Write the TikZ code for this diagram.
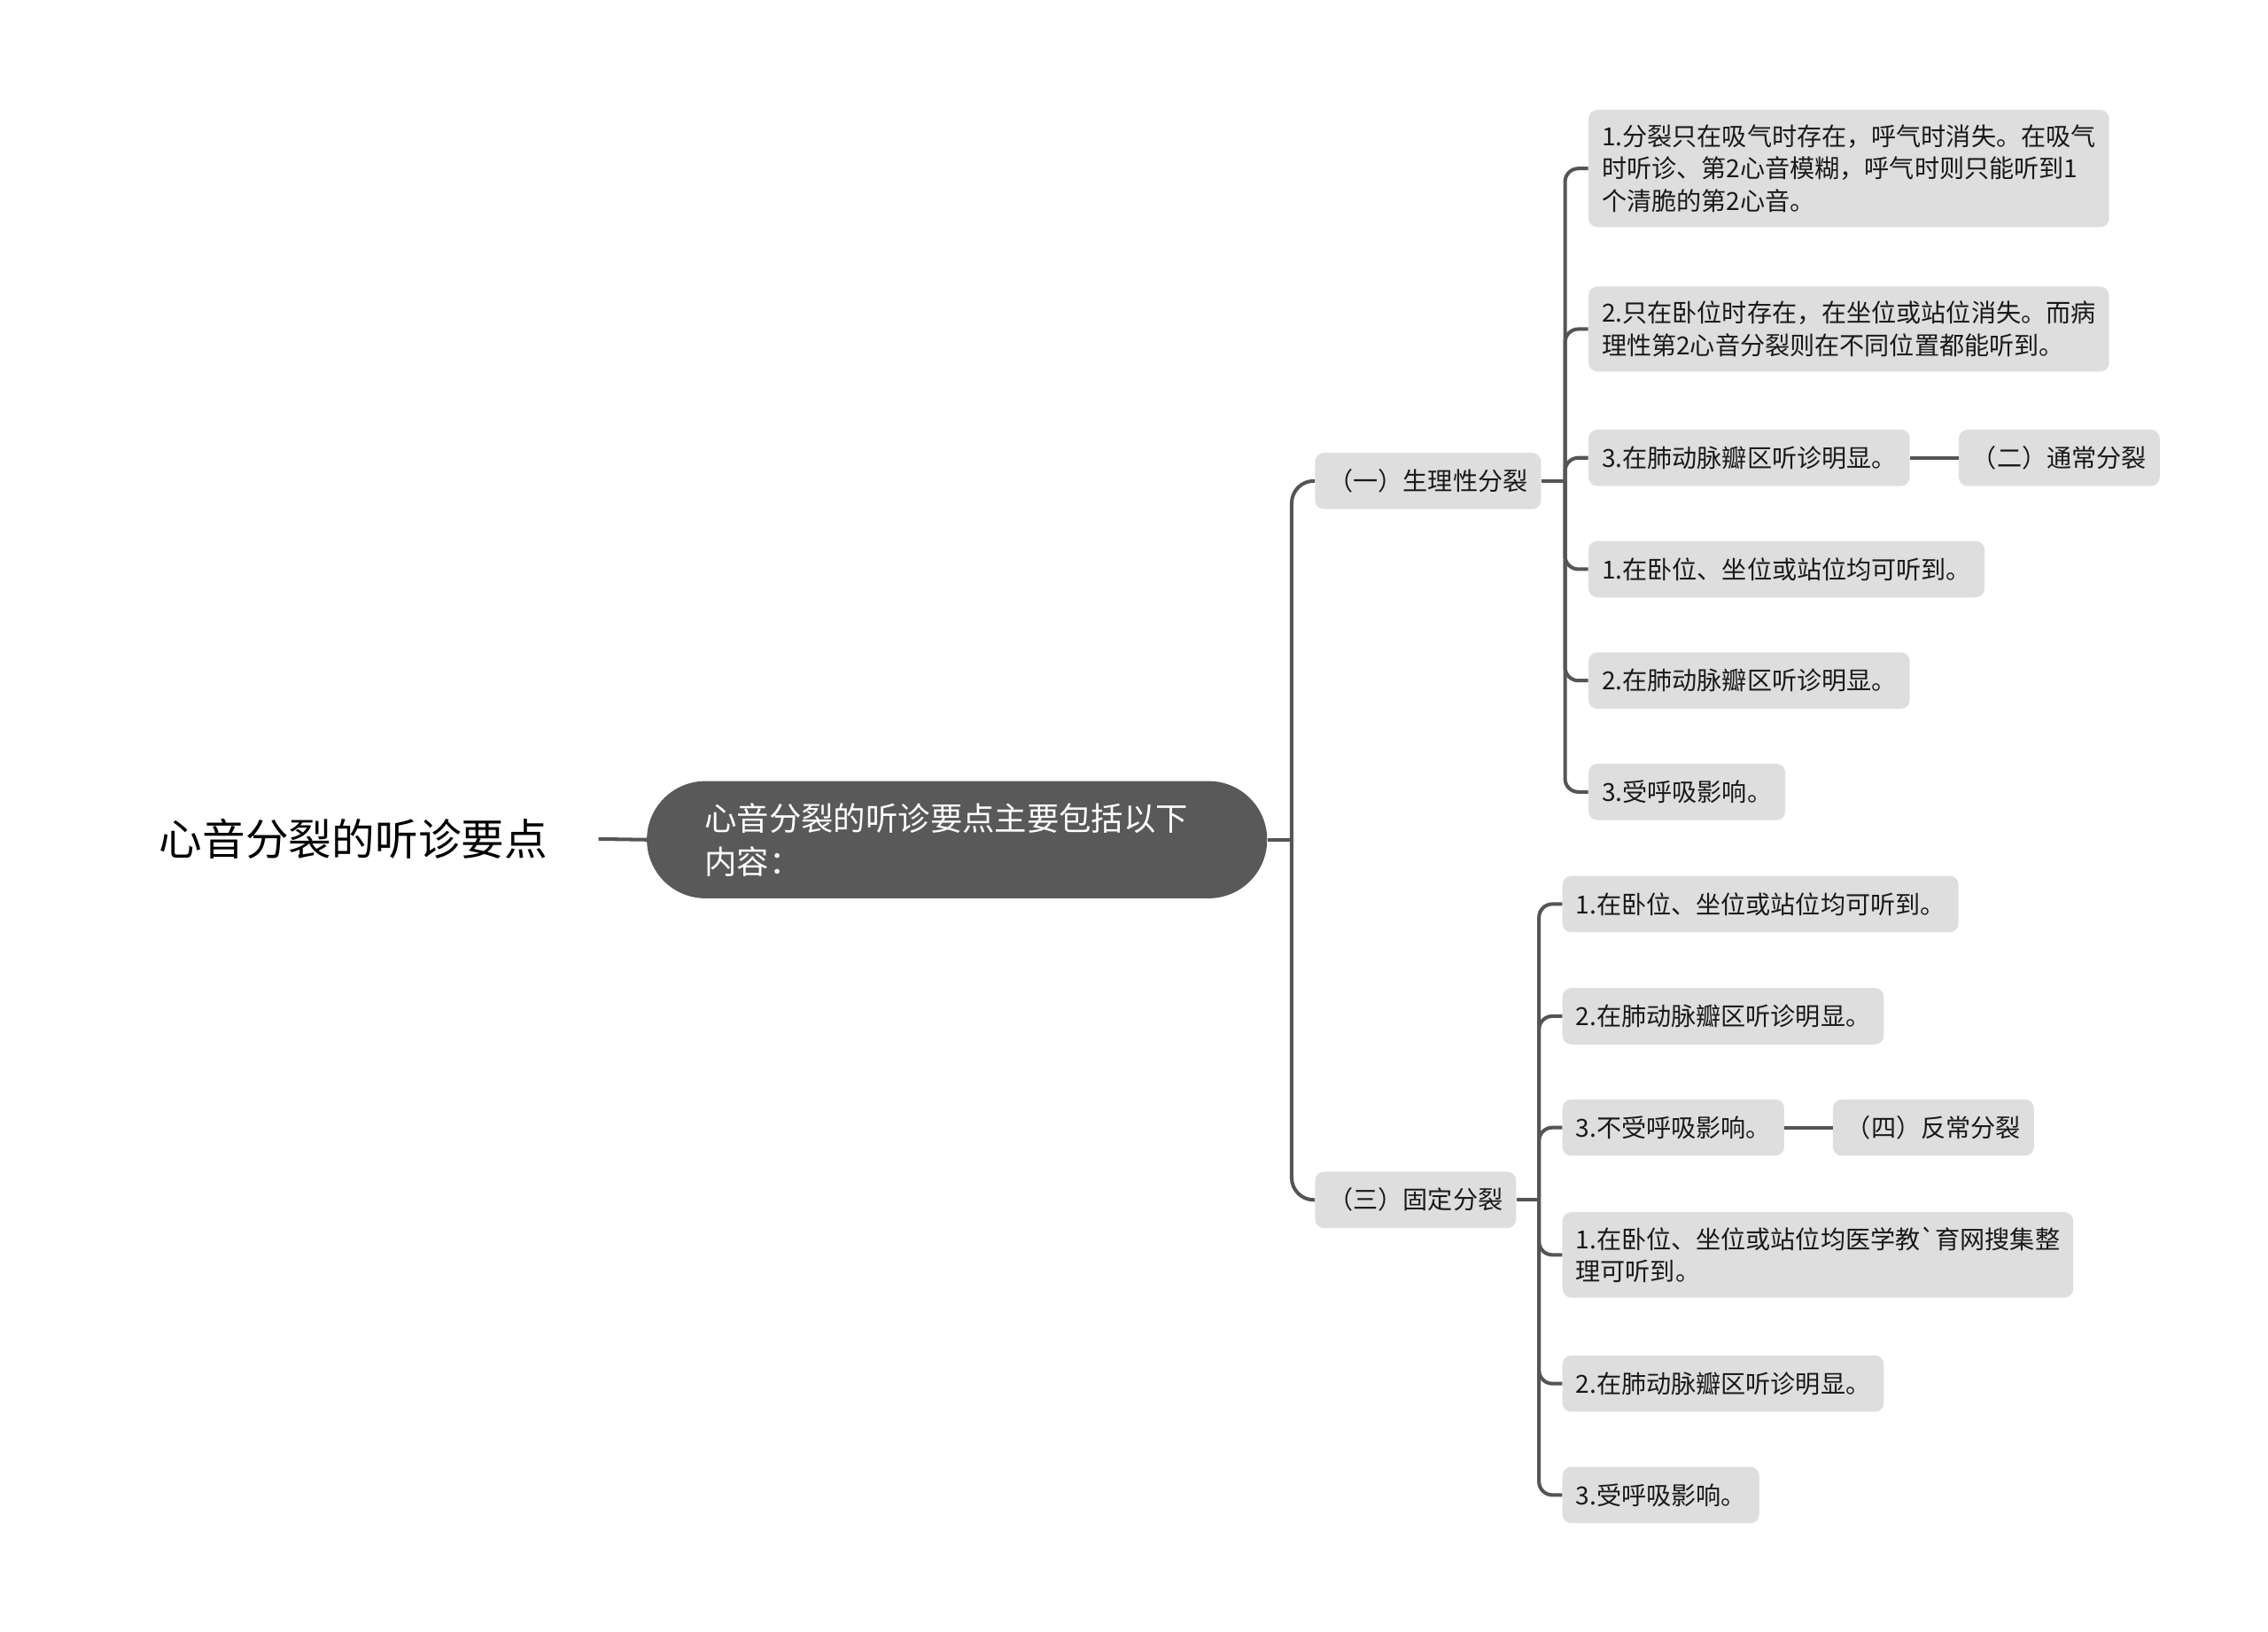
\documentclass[tikz,border=0pt]{standalone}
\usepackage{fontspec}
\setmainfont{Noto Sans CJK SC}
\newfontfamily\nomapfont{Noto Sans CJK SC}
\definecolor{boxgray}{RGB}{222,222,222}
\definecolor{linegray}{RGB}{85,85,85}
\definecolor{centergray}{RGB}{89,89,89}
\definecolor{textgray}{RGB}{25,25,25}

\begin{document}
\begin{tikzpicture}[x=0.032653cm, y=-0.032653cm,
    conn/.style={draw=linegray, line width=2.3pt},
    leaf/.style={anchor=west, fill=boxgray, rounded corners=0.2cm, inner xsep=0.3cm,
      inner ysep=0.33cm, minimum height=1.273cm, align=left, text=textgray,
      font=\fontsize{16}{20.9}\selectfont}]
  \useasboundingbox (0,0) rectangle (1568,1128);
  % Title and central topic
  \node[anchor=west, inner xsep=1.143cm, font=\fontsize{27.7}{30}\selectfont] (root) at (75,580) {心音分裂的听诊要点};
  \node[anchor=west, fill=centergray, text=white, rounded corners=1.32cm, minimum height=2.645cm,
    text width=11.39cm, inner xsep=1.306cm, inner ysep=0.3cm, align=left,
    font=\fontsize{20.7}{27.9}\selectfont] (main) at (447,580.5) {心音分裂的听诊要点主要包括以下\\内容：};
  \draw[conn] (root.east) -- (main.west);
  % Two branches
  \node[leaf] (b1) at (909,332.5) {（一）生理性分裂};
  \node[leaf] (b2) at (909,829.5) {（三）固定分裂};
  \coordinate (j0) at (893,580.5);
  \draw[conn] (main.east) -- (j0);
  \draw[conn, rounded corners=0.5cm] (j0) |- (b1.west);
  \draw[conn, rounded corners=0.5cm] (j0) |- (b2.west);
  % Leaves of the first branch
  \foreach \name/\y/\txt in {
      a1/116.5/{1.分裂只在吸气时存在，呼气时消失。在吸气\\时听诊、第2心音模糊，呼气时则只能听到1\\个清脆的第2心音。},
      a2/227.5/{2.只在卧位时存在，在坐位或站位消失。而病\\理性第2心音分裂则在不同位置都能听到。},
      a3/316.5/{3.在肺动脉瓣区听诊明显。},
      a4/393.5/{1.在卧位、坐位或站位均可听到。},
      a5/470.5/{2.在肺动脉瓣区听诊明显。},
      a6/547.5/{3.受呼吸影响。}} {
    \node[leaf] (\name) at (1098,\y) {\txt};
  }
  \coordinate (j1) at (1082,332.5);
  \draw[conn] (b1.east) -- (j1);
  \foreach \name in {a1,a2,a3,a4,a5,a6}
    \draw[conn, rounded corners=0.3cm] (j1) |- (\name.west);
  \node[leaf] (n2) at (1354,316.5) {（二）通常分裂};
  \draw[conn] (a3.east) -- (n2.west);
  % Leaves of the second branch
  \foreach \name/\y/\txt in {
      c1/625/{1.在卧位、坐位或站位均可听到。},
      c2/702.5/{2.在肺动脉瓣区听诊明显。},
      c3/779.5/{3.不受呼吸影响。},
      c4/867.5/{1.在卧位、坐位或站位均医学教{\nomapfont `}育网搜集整\\理可听到。},
      c5/956.5/{2.在肺动脉瓣区听诊明显。},
      c6/1033.5/{3.受呼吸影响。}} {
    \node[leaf] (\name) at (1080,\y) {\txt};
  }
  \coordinate (j2) at (1064,829.5);
  \draw[conn] (b2.east) -- (j2);
  \foreach \name in {c1,c2,c3,c4,c5,c6}
    \draw[conn, rounded corners=0.3cm] (j2) |- (\name.west);
  \node[leaf] (n4) at (1267,779.5) {（四）反常分裂};
  \draw[conn] (c3.east) -- (n4.west);
\end{tikzpicture}
\end{document}
